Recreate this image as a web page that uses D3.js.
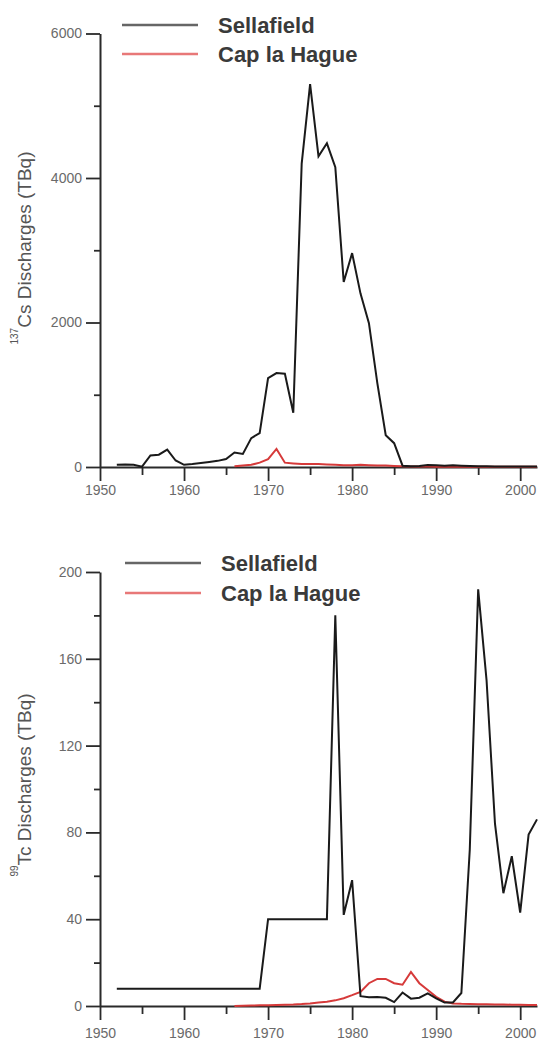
<!DOCTYPE html>
<html>
<head>
<meta charset="utf-8">
<script src="https://cdn.jsdelivr.net/npm/d3@7/dist/d3.min.js"></script>
<style>
  body { margin: 0; background: #fff; }
  text { font-family: "Liberation Sans", Arial, sans-serif; }
</style>
</head>
<body>
<script>
// 137Cs discharges (TBq), one value per year
var csSellafieldYears = [1952,1953,1954,1955,1956,1957,1958,1959,1960,1961,1962,1963,1964,1965,1966,1967,1968,1969,1970,1971,1972,1973,1974,1975,1976,1977,1978,1979,1980,1981,1982,1983,1984,1985,1986,1987,1988,1989,1990,1991,1992,1993,1994,1995,1996,1997,1998,1999,2000,2001,2002];
var csSellafield = [30,35,30,5,160,170,240,90,30,40,55,70,85,110,200,180,400,470,1230,1300,1290,750,4200,5300,4300,4480,4150,2560,2960,2400,1990,1160,440,330,18,12,13,29,24,16,24,18,14,12,12,8,8,6,8,6,8];

var csHagueYears = [1966,1967,1968,1969,1970,1971,1972,1973,1974,1975,1976,1977,1978,1979,1980,1981,1982,1983,1984,1985,1986,1987,1988,1989,1990,1991,1992,1993,1994,1995,1996,1997,1998,1999,2000,2001,2002];
var csHague = [10,20,30,60,110,250,60,50,40,40,40,35,30,25,25,30,25,20,20,15,10,8,8,6,5,5,4,4,4,3,3,3,3,3,3,3,3];

// 99Tc discharges (TBq)
var tcSellafieldYears = csSellafieldYears;
var tcSellafield = [8,8,8,8,8,8,8,8,8,8,8,8,8,8,8,8,8,8,40,40,40,40,40,40,40,40,180,42,58,4.5,4,4.2,3.8,1.8,6.2,3.4,3.8,5.8,3.5,1.6,1.6,6,72,192,150,84,52,69,43,79,86];

var tcHagueYears = csHagueYears;
var tcHague = [0,0.1,0.2,0.3,0.4,0.5,0.6,0.7,0.9,1.2,1.6,2,2.6,3.6,5,6.5,10.5,12.5,12.5,10.5,9.8,15.7,10.5,7.4,4.2,2,1.2,1,0.9,0.8,0.8,0.7,0.7,0.6,0.6,0.5,0.5];

var xTicks = [1950,1960,1970,1980,1990,2000];
var xMinor = [1955,1965,1975,1985,1995];
var csTicks = [0,2000,4000,6000];
var csMinor = [1000,3000,5000];
var tcTicks = [0,40,80,120,160,200];
var tcMinor = [20,60,100,140,180];
var seriesNames = ["Sellafield", "Cap la Hague"];

var width = 541, height = 1041;
var svg = d3.select("body").append("svg")
  .attr("width", width)
  .attr("height", height);

function zip(years, vals) {
  return years.map(function (y, i) { return {year: y, v: vals[i]}; });
}

function panel(opt) {
  var x = d3.scaleLinear().domain([1950, 2002]).range([100, 537]);
  var y = d3.scaleLinear().domain([0, opt.max]).range([opt.bottom, opt.top]);
  var g = svg.append("g");

  // minor ticks first
  g.append("g")
    .attr("transform", "translate(0," + opt.bottom + ")")
    .call(d3.axisBottom(x).tickValues(xMinor).tickSize(8).tickFormat(""))
    .call(function (s) { s.select(".domain").remove(); });
  g.append("g")
    .attr("transform", "translate(100,0)")
    .call(d3.axisLeft(y).tickValues(opt.minor).tickSize(6).tickFormat(""))
    .call(function (s) { s.select(".domain").remove(); });

  g.append("g")
    .attr("transform", "translate(0," + opt.bottom + ")")
    .call(d3.axisBottom(x).tickValues(xTicks).tickSize(14).tickSizeOuter(0).tickPadding(opt.xpad).tickFormat(d3.format("d")));
  g.append("g")
    .attr("transform", "translate(100,0)")
    .call(d3.axisLeft(y).tickValues(opt.ticks).tickSize(14).tickSizeOuter(0).tickPadding(4).tickFormat(d3.format("d")));

  g.selectAll(".tick line").attr("stroke", "#2a2a2a").attr("stroke-width", 1.8);
  g.selectAll(".domain").attr("stroke", "#2a2a2a").attr("stroke-width", 2);
  g.selectAll(".tick text").attr("fill", "#6a6a6a").attr("font-size", 14)
    .attr("font-family", "Liberation Sans, Arial, sans-serif");

  var line = d3.line()
    .x(function (d) { return x(d.year); })
    .y(function (d) { return y(d.v); });

  g.append("path")
    .datum(zip(opt.hagueYears, opt.hague))
    .attr("d", line)
    .attr("fill", "none")
    .attr("stroke", "#d63a3a")
    .attr("stroke-width", 2);

  g.append("path")
    .datum(zip(opt.sellYears, opt.sell))
    .attr("d", line)
    .attr("fill", "none")
    .attr("stroke", "#1a1a1a")
    .attr("stroke-width", 2);

  // legend
  var cols = ["#666", "#e87878"];
  seriesNames.forEach(function (name, i) {
    var ly = opt.legY[i];
    g.append("line")
      .attr("x1", opt.legX).attr("x2", opt.legX + 76)
      .attr("y1", ly).attr("y2", ly)
      .attr("stroke", cols[i]).attr("stroke-width", 2.5);
    g.append("text")
      .attr("x", opt.legX + 96).attr("y", ly)
      .attr("dy", "0.35em")
      .attr("font-size", 22)
      .attr("font-weight", "bold")
      .attr("fill", "#3a3a3a")
      .text(name);
  });

  // y label
  var lab = g.append("text")
    .attr("transform", "translate(25," + opt.labY + ") rotate(-90)")
    .attr("text-anchor", "middle")
    .attr("dy", "0.35em")
    .attr("font-size", 19)
    .attr("fill", "#555");
  lab.append("tspan").attr("font-size", 10).attr("dy", "-0.7em").text(opt.iso);
  lab.append("tspan").attr("dy", "0.7em").text(opt.label);
}

panel({
  max: 6000, top: 33.5, bottom: 467, ticks: csTicks, minor: csMinor, xpad: 4,
  sellYears: csSellafieldYears, sell: csSellafield,
  hagueYears: csHagueYears, hague: csHague,
  legX: 122, legY: [25, 54], labY: 248, iso: "137", label: "Cs Discharges (TBq)"
});

panel({
  max: 200, top: 572, bottom: 1006, ticks: tcTicks, minor: tcMinor, xpad: 8,
  sellYears: tcSellafieldYears, sell: tcSellafield,
  hagueYears: tcHagueYears, hague: tcHague,
  legX: 125, legY: [563, 593], labY: 785, iso: "99", label: "Tc Discharges (TBq)"
});
</script>
</body>
</html>
